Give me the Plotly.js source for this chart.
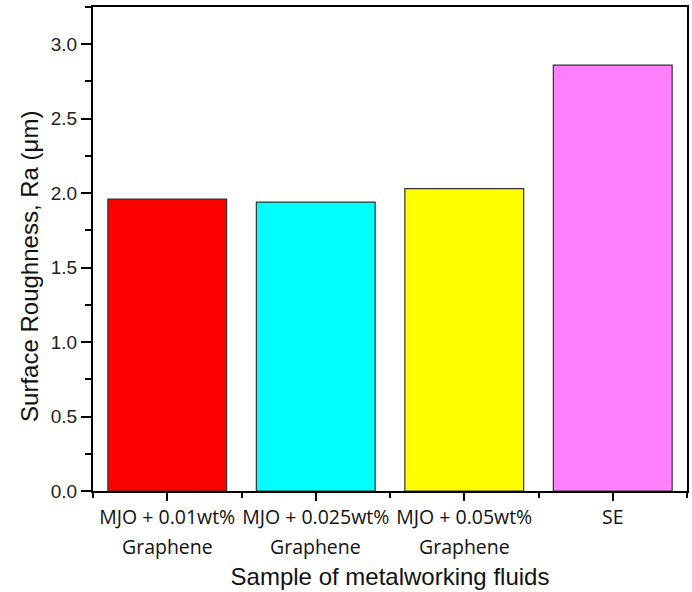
<!DOCTYPE html>
<html>
<head>
<meta charset="utf-8">
<script src="https://cdn.plot.ly/plotly-3.0.1.min.js"></script>
<style>html,body{margin:0;padding:0;background:#fff;}#chart{width:692px;height:592px;}</style>
</head>
<body>
<div id="chart"></div>
<script>
const categories = ["MJO + 0.01wt%", "MJO + 0.025wt%", "MJO + 0.05wt%", "SE"];
const categoryLine2 = ["Graphene", "Graphene", "Graphene", ""];
const roughness = [1.96, 1.94, 2.03, 2.86];
const barColors = ["#FF0000", "#00FFFF", "#FFFF00", "#FF80FF"];
const yTickVals = [0.0, 0.5, 1.0, 1.5, 2.0, 2.5, 3.0];
const yTickText = ["0.0", "0.5", "1.0", "1.5", "2.0", "2.5", "3.0"];
const xTitle = "Sample of metalworking fluids";
const yTitle = "Surface Roughness, Ra (μm)";

const xs = categories.map((_, i) => i);
const minorX = [-0.5].concat(categories.map((_, i) => i + 0.5));

const trace = {
  type: "bar",
  x: xs,
  y: roughness,
  width: 0.8,
  marker: { color: barColors, line: { color: "#333333", width: 1.2 } },
  hoverinfo: "skip"
};

const tickFont = { family: "Open Sans, Noto Sans, sans-serif", size: 19.5, color: "#111" };
const titleFont = { family: "Liberation Sans, Arial, sans-serif", size: 24, color: "#111" };

const annotations = categoryLine2.map((t, i) => ({
  x: i, xref: "x", y: 0, yref: "paper", yanchor: "middle", yshift: -55,
  text: t, showarrow: false, font: tickFont
}));
annotations.push({
  x: 0, xref: "paper", xanchor: "center", xshift: -63,
  y: 0.463, yref: "paper", yanchor: "middle",
  text: yTitle, textangle: -90, showarrow: false, font: titleFont
});

const layout = {
  width: 692,
  height: 592,
  margin: { l: 93, r: 5, t: 7, b: 101 },
  paper_bgcolor: "#fff",
  plot_bgcolor: "#fff",
  showlegend: false,
  xaxis: {
    range: [-0.5, 3.5],
    tickmode: "array",
    tickvals: xs,
    ticktext: categories,
    ticks: "outside",
    ticklen: 8,
    tickwidth: 2,
    tickcolor: "#000",
    tickfont: tickFont,
    showline: true,
    linewidth: 2,
    linecolor: "#000",
    mirror: true,
    showgrid: false,
    zeroline: false,
    minor: { tickmode: "array", tickvals: minorX, ticks: "outside", ticklen: 5, tickwidth: 2, tickcolor: "#000", showgrid: false },
    title: { text: xTitle, font: titleFont, standoff: 39 }
  },
  yaxis: {
    range: [0, 3.25],
    tickmode: "array",
    tickvals: yTickVals,
    ticktext: yTickText,
    ticks: "outside",
    ticklen: 10,
    tickwidth: 2,
    tickcolor: "#000",
    tickfont: { family: "Liberation Sans, Arial, sans-serif", size: 19, color: "#222" },
    showline: true,
    linewidth: 2,
    linecolor: "#000",
    mirror: true,
    showgrid: false,
    zeroline: false,
    minor: { tickmode: "linear", tick0: 0, dtick: 0.25, ticks: "outside", ticklen: 6, tickwidth: 2, tickcolor: "#000", showgrid: false }
  },
  annotations: annotations
};

Plotly.newPlot("chart", [trace], layout, { staticPlot: true, displayModeBar: false });
</script>
</body>
</html>
